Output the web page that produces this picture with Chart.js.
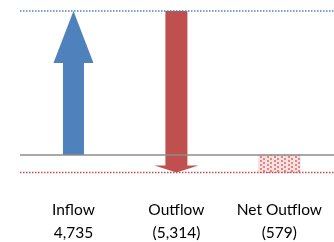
<!DOCTYPE html>
<html>
<head>
<meta charset="utf-8">
<script src="https://cdn.jsdelivr.net/npm/chart.js@4.4.1/dist/chart.umd.min.js"></script>
<style>
html, body { margin: 0; padding: 0; background: #fff; }
#wrap { width: 334px; height: 242px; }
</style>
</head>
<body>
<div id="wrap"><canvas id="flowchart"></canvas></div>
<script>
const categories = ['Inflow', 'Outflow', 'Net Outflow'];
const valueLabels = ['4,735', '(5,314)', '(579)'];
const flowStart = [0, 4735, 0];
const flowEnd = [4735, -579, -579];

// dotted fill used for the net outflow box
function dotPattern() {
    const c = document.createElement('canvas');
    c.width = 7;
    c.height = 4;
    const g = c.getContext('2d');
    g.fillStyle = '#f7e0df';
    g.fillRect(0, 0, 7, 4);
    g.fillStyle = '#d98a88';
    g.fillRect(1, 0, 2, 2);
    g.fillRect(4, 2, 2, 2);
    return g.createPattern(c, 'repeat');
}

const arrowStyle = [
    { color: '#4f81bd', shaft: 10.5, head: 20, headLen: 52 },
    { color: '#c0504d', shaft: 11, head: 22, headLen: 7 }
];

const flowPlugin = {
    id: 'flowArrows',
    afterDatasetsDraw(chart) {
        const ctx = chart.ctx;
        const x = chart.scales.x;
        const y = chart.scales.y;

        arrowStyle.forEach((st, i) => {
            const cx = x.getPixelForValue(i);
            const y0 = y.getPixelForValue(flowStart[i]);
            const y1 = y.getPixelForValue(flowEnd[i]);
            const dir = y1 < y0 ? 1 : -1;
            const hb = y1 + dir * st.headLen;
            ctx.save();
            ctx.fillStyle = st.color;
            ctx.beginPath();
            ctx.moveTo(cx - st.shaft, y0);
            ctx.lineTo(cx - st.shaft, hb);
            ctx.lineTo(cx - st.head, hb);
            ctx.lineTo(cx, y1);
            ctx.lineTo(cx + st.head, hb);
            ctx.lineTo(cx + st.shaft, hb);
            ctx.lineTo(cx + st.shaft, y0);
            ctx.closePath();
            ctx.fill();
            ctx.restore();
        });

        const hline = (val, color, width, dash) => {
            const py = y.getPixelForValue(val);
            ctx.save();
            ctx.strokeStyle = color;
            ctx.lineWidth = width;
            ctx.setLineDash(dash);
            ctx.beginPath();
            ctx.moveTo(20, py);
            ctx.lineTo(chart.width, py);
            ctx.stroke();
            ctx.restore();
        };
        hline(0, '#8c8c8c', 1.5, []);
        hline(flowEnd[0], '#4f81bd', 1.5, [1.5, 1.5]);
        hline(flowEnd[2], '#c0504d', 1.5, [1.5, 1.5]);
    }
};

const ctx = document.getElementById('flowchart').getContext('2d');
new Chart(ctx, {
    type: 'bar',
    data: {
        labels: categories,
        datasets: [{
            data: flowStart.map((s, i) => [s, flowEnd[i]]),
            backgroundColor: ['rgba(0,0,0,0)', 'rgba(0,0,0,0)', dotPattern()],
            barThickness: 42,
            borderWidth: 0
        }]
    },
    options: {
        responsive: true,
        maintainAspectRatio: false,
        animation: false,
        layout: { padding: { left: 22, right: -6, top: 0, bottom: 0 } },
        scales: {
            x: {
                grid: { display: false, drawTicks: false },
                border: { display: false },
                afterFit: s => { s.height = 56; },
                ticks: {
                    padding: 12,
                    color: '#000',
                    maxRotation: 0,
                    font: { family: 'Lato', size: 15.5, lineHeight: '23px' },
                    callback: (v, i) => [categories[i], valueLabels[i]]
                }
            },
            y: {
                display: false,
                min: -1020,
                max: 5100
            }
        },
        plugins: {
            legend: { display: false },
            tooltip: { enabled: false }
        }
    },
    plugins: [flowPlugin]
});
</script>
</body>
</html>
